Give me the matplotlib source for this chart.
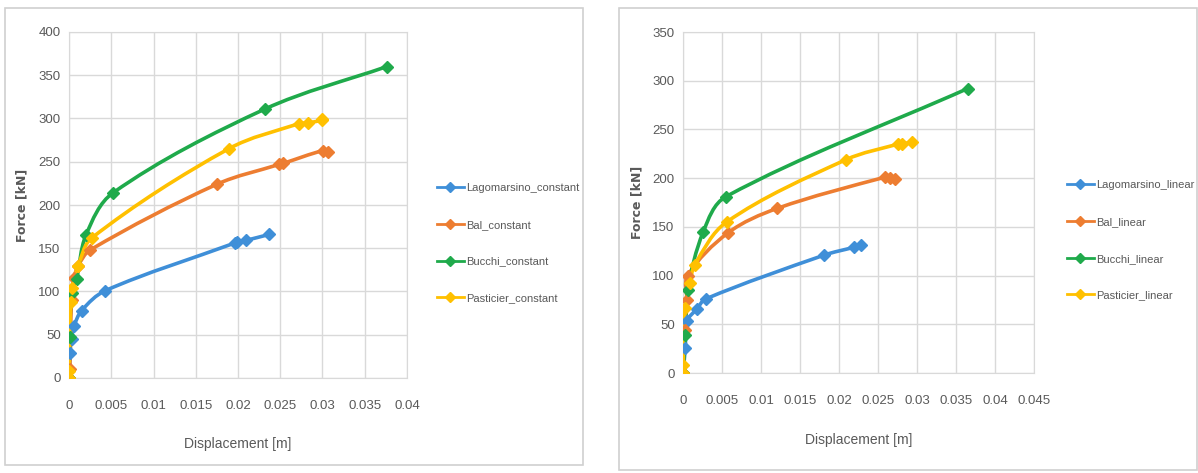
import numpy as np
import matplotlib
matplotlib.use('Agg')
import matplotlib.pyplot as plt
from matplotlib.path import Path
from matplotlib.patches import PathPatch, Rectangle

plt.rcParams['font.family'] = ['Liberation Sans', 'DejaVu Sans']

# data: constant load pattern (left)
lag_c_x = [0, 0.0001, 0.0003, 0.0006, 0.0015, 0.0043, 0.0196, 0.0199, 0.0209, 0.0237]
lag_c_y = [0, 29, 45, 60, 78, 101, 156, 157, 159, 166]
bal_c_x = [0, 0.0001, 0.0003, 0.0006, 0.0011, 0.0025, 0.0175, 0.0249, 0.0253, 0.0301, 0.0307]
bal_c_y = [0, 10, 90, 116, 130, 148, 224, 247, 248, 263, 261]
buc_c_x = [0, 0.0001, 0.0003, 0.0009, 0.0020, 0.0052, 0.0232, 0.0376]
buc_c_y = [0, 47, 98, 115, 165, 214, 311, 360]
pas_c_x = [0, 0, 0.0002, 0.0004, 0.0011, 0.0027, 0.0189, 0.0272, 0.0283, 0.0299, 0.0300]
pas_c_y = [0, 8, 88, 104, 130, 162, 265, 294, 295, 298, 299]

# data: linear load pattern (right)
lag_l_x = [0, 0.0003, 0.0005, 0.0018, 0.0029, 0.0181, 0.0219, 0.0228]
lag_l_y = [0, 26, 53, 66, 76, 121, 129, 131]
bal_l_x = [0, 0.0003, 0.0005, 0.0006, 0.0058, 0.0121, 0.0259, 0.0266, 0.0272]
bal_l_y = [0, 44, 75, 100, 144, 169, 201, 200, 199]
buc_l_x = [0, 0.0003, 0.0006, 0.0026, 0.0055, 0.0365]
buc_l_y = [0, 39, 85, 145, 181, 292]
pas_l_x = [0, 0, 0.0003, 0.0009, 0.0015, 0.0056, 0.0209, 0.0276, 0.0281, 0.0293]
pas_l_y = [0, 8, 67, 92, 111, 155, 219, 235, 235, 237]

names = ['Lagomarsino', 'Bal', 'Bucchi', 'Pasticier']
colors = ['#3f8fd8', '#ed7d31', '#1faa4b', '#ffc000']
grid_c = '#d9d9d9'
text_c = '#595959'


def smooth_path(x, y, sx, sy):
    # excel-like smoothed line, bezier segments built in axes-normalised units
    pts = np.column_stack([np.asarray(x) / sx, np.asarray(y) / sy])
    n = len(pts)
    dirs = []
    for i in range(n):
        d = pts[min(i + 1, n - 1)] - pts[max(i - 1, 0)]
        nrm = np.hypot(*d)
        dirs.append(d / nrm if nrm > 0 else np.zeros(2))
    verts = [pts[0]]
    codes = [Path.MOVETO]
    for i in range(n - 1):
        p1, p2 = pts[i], pts[i + 1]
        seg = np.hypot(*(p2 - p1)) / 3
        verts += [p1 + dirs[i] * seg, p2 - dirs[i + 1] * seg, p2]
        codes += [Path.CURVE4] * 3
    verts = np.array(verts) * [sx, sy]
    return Path(verts, codes)


def draw_panel(ax, series, suffix, xmax, xstep, ymax, ylab_x, xlab_y, leg_anchor):
    for (px, py), name, c in zip(series, names, colors):
        ax.add_patch(PathPatch(smooth_path(px, py, xmax, ymax), fill=False, edgecolor=c,
                               lw=2.6, capstyle='round', zorder=3))
        ax.plot(px, py, ls='none', marker='D', ms=6, color=c, zorder=4)
        ax.plot([], [], '-', marker='D', ms=5, lw=2, color=c, label=f'{name}_{suffix}')
    ax.set_xlim(0, xmax)
    ax.set_ylim(0, ymax)
    xt = np.arange(0, xmax + 1e-9, xstep)
    ax.set_xticks(xt)
    ax.set_xticklabels(['0'] + [f'{v:g}' for v in xt[1:]])
    ax.set_yticks(np.arange(0, ymax + 1, 50))
    ax.grid(True, color=grid_c, lw=1)
    ax.set_axisbelow(True)
    for s in ax.spines.values():
        s.set_color(grid_c)
    ax.tick_params(length=0, colors=text_c, labelsize=9.5)
    ax.tick_params(axis='x', pad=16)
    ax.tick_params(axis='y', pad=6)
    ax.set_xlabel('Displacement [m]', color=text_c, fontsize=10)
    ax.set_ylabel('Force [kN]', color=text_c, fontsize=9, fontweight='bold',
                  family='DejaVu Sans')
    ax.yaxis.set_label_coords(ylab_x, 0.5)
    ax.xaxis.set_label_coords(0.5, xlab_y)
    ax.legend(loc='center left', bbox_to_anchor=leg_anchor, frameon=False,
              fontsize=8, labelcolor=text_c, labelspacing=2.4, handlelength=2.4,
              handletextpad=0.2)


fig = plt.figure(figsize=(11.98, 4.73), dpi=100)
W, H = 1198, 473
fig.patches.append(Rectangle((5 / W, 1 - 465 / H), 578 / W, 457 / H, transform=fig.transFigure,
                             fill=False, edgecolor='#d0d0d0', lw=1.2))
fig.patches.append(Rectangle((619 / W, 1 - 470 / H), 578 / W, 462 / H, transform=fig.transFigure,
                             fill=False, edgecolor='#d0d0d0', lw=1.2))

ax1 = fig.add_axes([69 / W, 1 - 378 / H, 338 / W, 346 / H])
draw_panel(ax1, [(lag_c_x, lag_c_y), (bal_c_x, bal_c_y), (buc_c_x, buc_c_y), (pas_c_x, pas_c_y)],
           'constant', 0.04, 0.005, 400, -0.121, -0.171, (1.059, 0.39))

ax2 = fig.add_axes([683 / W, 1 - 373 / H, 351 / W, 341 / H])
draw_panel(ax2, [(lag_l_x, lag_l_y), (bal_l_x, bal_l_y), (buc_l_x, buc_l_y), (pas_l_x, pas_l_y)],
           'linear', 0.045, 0.005, 350, -0.114, -0.176, (1.066, 0.389))

fig.savefig('out.png', dpi=100)
